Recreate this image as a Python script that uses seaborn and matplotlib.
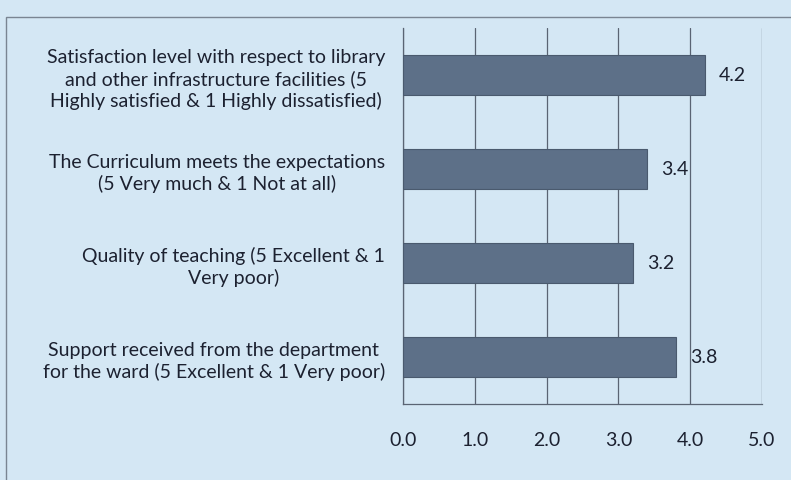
import matplotlib
matplotlib.use("Agg")
import matplotlib.pyplot as plt
from matplotlib.patches import Rectangle
import seaborn as sns

# Data (top to bottom)
categories = [
    "Satisfaction level with respect to library\nand other infrastructure facilities (5\nHighly satisfied & 1 Highly dissatisfied)",
    "The Curriculum meets the expectations\n(5 Very much & 1 Not at all)",
    "Quality of teaching (5 Excellent & 1\nVery poor)",
    "Support received from the department\nfor the ward (5 Excellent & 1 Very poor)",
]
scores = [4.2, 3.4, 3.2, 3.8]
x_ticks = [0.0, 1.0, 2.0, 3.0, 4.0, 5.0]

BG = "#d4e7f4"
BAR = "#5d7088"
LINE = "#5a6473"
TEXT = "#1c2130"
FS = 14

sns.set_style("white")
plt.rcParams["font.family"] = ["Lato", "DejaVu Sans"]

fig = plt.figure(figsize=(7.91, 4.81), dpi=100)
fig.patch.set_facecolor(BG)
ax = fig.add_axes([403 / 791, 1 - 405 / 481, (762 - 403) / 791, (405 - 29) / 481])
ax.set_facecolor(BG)

sns.barplot(x=scores, y=categories, color=BAR, width=0.42, saturation=1,
            edgecolor="#4a5a6e", linewidth=0.8, ax=ax, zorder=3)

ax.set_xlim(0, 5)
ax.set_ylim(3.5, -0.5)
ax.set_xticks(x_ticks)
ax.set_xticklabels([f"{v:.1f}" for v in x_ticks], fontsize=FS, color=TEXT)
ax.grid(axis="x", color=LINE, linewidth=0.9, zorder=0)
ax.grid(axis="y", visible=False)

# labels at category centres (minor), tick marks at boundaries (major)
ax.set_yticks([-0.5, 0.5, 1.5, 2.5, 3.5])
ax.set_yticklabels([])
ax.set_yticks(range(len(categories)), minor=True)
ax.set_yticklabels(categories, minor=True, fontsize=FS, color=TEXT)
for lab in ax.get_yticklabels(minor=True):
    lab.set_multialignment("center")
    lab.set_linespacing(1.25)
ax.tick_params(axis="y", which="minor", length=0, pad=13)
ax.tick_params(axis="y", which="major", length=6, width=0.9, color=LINE, direction="out")
ax.tick_params(axis="x", length=7, width=0.9, color=LINE, direction="inout", pad=16)

for s in ["top", "right"]:
    ax.spines[s].set_visible(False)
for s in ["left", "bottom"]:
    ax.spines[s].set_color(LINE)
    ax.spines[s].set_linewidth(0.9)

for i, v in enumerate(scores):
    ax.text(v + 0.2, i, f"{v:.1f}", va="center", ha="left", fontsize=FS, color=TEXT)

# outer chart frame
fig.patches.append(Rectangle((6 / 791, -0.01), 1.0, 1 - 18 / 481 + 0.01,
                             transform=fig.transFigure, fill=False,
                             edgecolor="#7a8592", linewidth=1.0))

fig.savefig("out.png", dpi=100, facecolor=BG)
